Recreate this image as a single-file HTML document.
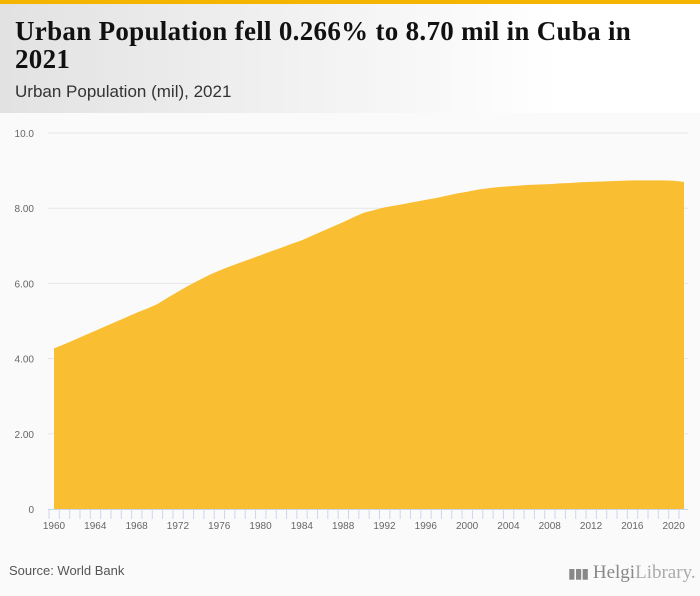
<!DOCTYPE html>
<html><head><meta charset="utf-8"><style>
body{margin:0;width:700px;height:596px;background:#fafafa;font-family:"Liberation Sans",sans-serif;overflow:hidden;position:relative}
#topbar{position:absolute;left:0;top:0;width:700px;height:4px;background:#f5b400}
#header{position:absolute;left:0;top:4px;width:700px;height:109px;background:linear-gradient(90deg,#e2e2e2 0%,#f4f4f4 50%,#fff 80%)}
#title{position:absolute;left:15px;top:13px;font-family:"Liberation Serif",serif;font-weight:bold;font-size:27px;line-height:28px;color:#111;width:640px;letter-spacing:0.3px}
#subtitle{position:absolute;left:15px;top:78px;font-size:17px;color:#333}
#source{position:absolute;left:9px;top:563px;font-size:13px;color:#555}
#logo{position:absolute;left:568px;top:562px;font-family:"Liberation Serif",serif;font-size:19px;color:#888}
</style></head><body>
<div id="topbar"></div>
<div id="header">
<div id="title">Urban Population fell 0.266% to 8.70 mil in Cuba in 2021</div>
<div id="subtitle">Urban Population (mil), 2021</div>
</div>
<svg id="chart" width="700" height="596" style="position:absolute;left:0;top:0"></svg>
<div id="source">Source: World Bank</div>
<div id="logo"><span style="font-size:14px;letter-spacing:-1px">▮▮▮</span> Helgi<span style="font-weight:normal;color:#aaa">Library.</span></div>
<script>
const years=[];for(let y=1960;y<=2021;y++)years.push(y);
const values=[4.27,4.38,4.50,4.62,4.74,4.86,4.98,5.10,5.22,5.33,5.45,5.62,5.78,5.94,6.08,6.22,6.34,6.45,6.55,6.65,6.75,6.85,6.95,7.05,7.15,7.27,7.39,7.51,7.63,7.76,7.88,7.95,8.02,8.07,8.12,8.17,8.22,8.27,8.33,8.39,8.44,8.49,8.53,8.56,8.58,8.60,8.62,8.63,8.64,8.66,8.67,8.69,8.70,8.71,8.72,8.73,8.74,8.74,8.74,8.74,8.73,8.70];
const yTicks=[0,2,4,6,8,10];
const yTickLabels=["0","2.00","4.00","6.00","8.00","10.0"];
const svg=document.getElementById('chart');const NS='http://www.w3.org/2000/svg';
const x0=54,x1=684,yb=509,yt=133;
const xs=y=>x0+(y-1960)*(x1-x0)/(2021-1960);
const ys=v=>yb-v*(yb-yt)/10;
function mk(t,a){const e=document.createElementNS(NS,t);for(const k in a)e.setAttribute(k,a[k]);svg.appendChild(e);return e;}
yTicks.forEach((v,i)=>{
 if(v>0){const g=mk('line',{x1:48,x2:688,y1:ys(v),y2:ys(v),stroke:'#e6e6e6','stroke-width':1});
 
 }
 const t=mk('text',{x:34,y:ys(v)+4,'text-anchor':'end','font-size':10,fill:'#666','font-family':'Liberation Sans'});
 t.textContent=yTickLabels[i];
 
 
});
let d='M'+xs(years[0])+','+yb;
years.forEach((y,i)=>{d+=' L'+xs(y).toFixed(1)+','+ys(values[i]).toFixed(1);});
d+=' L'+xs(years[years.length-1])+','+yb+' Z';
const area=mk('path',{d:d,fill:'#f9be32'});


const ax=mk('line',{x1:48,x2:688,y1:yb+0.5,y2:yb+0.5,stroke:'#ccd6eb'});


years.forEach(y=>{
 const tk=mk('line',{x1:xs(y)-5,x2:xs(y)-5,y1:yb,y2:yb+10,stroke:'#ccd6eb'});
 
 
 if((y-1960)%4===0){const t=mk('text',{x:xs(y),y:yb+20,'text-anchor':'middle','font-size':10,fill:'#666','font-family':'Liberation Sans'});
 t.textContent=y;
 
 }
});
</script>
</body></html>
